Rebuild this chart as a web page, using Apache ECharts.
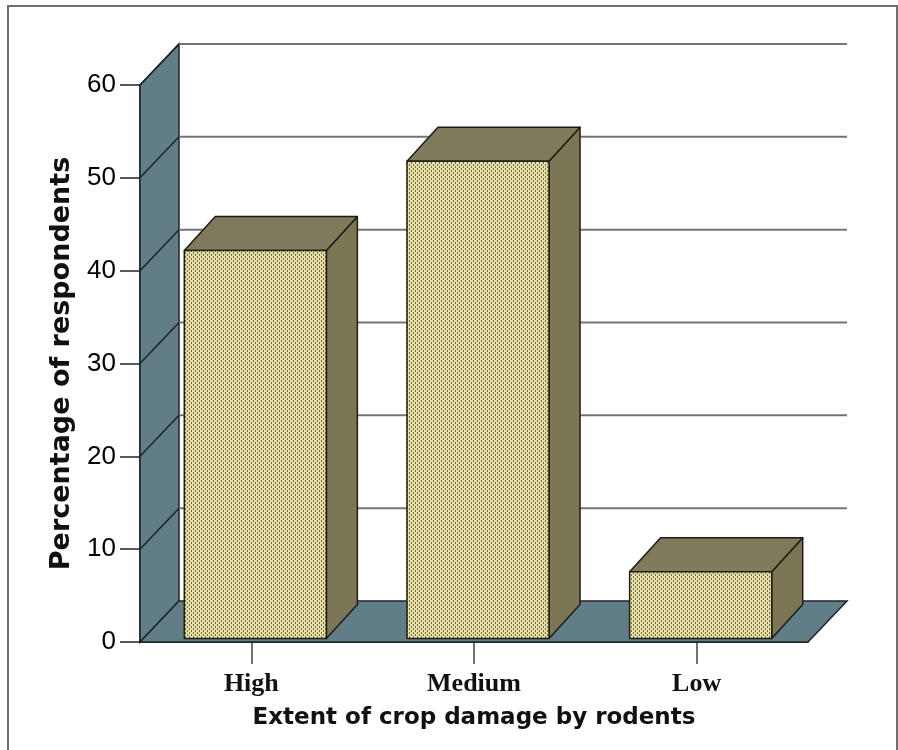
<!DOCTYPE html>
<html>
<head>
<meta charset="utf-8">
<script src="https://cdn.jsdelivr.net/npm/echarts@6/dist/echarts.min.js"></script>
<style>
  html, body { margin: 0; padding: 0; background: #ffffff; }
  #chart { width: 898px; height: 750px; }
</style>
</head>
<body>
<div id="chart"></div>
<script>
// Extent of crop damage by rodents (% of respondents)
const categories = ['High', 'Medium', 'Low'];
const percentages = [41.8, 51.4, 7.2];
const gridValues = [0, 10, 20, 30, 40, 50, 60];

// Depth of the 3D box (back wall offset) and of each bar
const WALL_DX = 39, WALL_DY = -41;
const BAR_DX = 31, BAR_DY = -34;
const BAR_RATIO = 0.638;

const WALL_COLOR = '#607d88';
const EDGE_COLOR = '#1c2326';
const BAR_TOP = '#7f7a5b';
const BAR_SIDE = '#7b7656';

// Dotted fill for the front faces of the bars
function makeDotPattern() {
  const c = document.createElement('canvas');
  c.width = 4; c.height = 4;
  const g = c.getContext('2d');
  g.fillStyle = '#e7e0a5';
  g.fillRect(0, 0, 4, 4);
  g.fillStyle = '#736d47';
  g.fillRect(1, 0, 1, 2);
  g.fillRect(3, 2, 1, 2);
  return c;
}
const dotPattern = { image: makeDotPattern(), repeat: 'repeat' };

function renderFrame(params, api) {
  const cs = params.coordSys;
  const L = cs.x, R = cs.x + cs.width, T = cs.y, B = cs.y + cs.height;
  return {
    type: 'group',
    children: [
      {
        type: 'polygon',
        shape: { points: [[L, B], [L, T], [L + WALL_DX, T + WALL_DY], [L + WALL_DX, B + WALL_DY]] },
        style: { fill: WALL_COLOR, stroke: EDGE_COLOR, lineWidth: 1.5 }
      },
      {
        type: 'polygon',
        shape: { points: [[L, B], [L + WALL_DX, B + WALL_DY], [R + WALL_DX, B + WALL_DY], [R, B]] },
        style: { fill: WALL_COLOR, stroke: EDGE_COLOR, lineWidth: 1.5 }
      }
    ]
  };
}

function renderGridLine(params, api) {
  const cs = params.coordSys;
  const L = cs.x, R = cs.x + cs.width;
  const v = api.value(1);
  const y = api.coord([0, v])[1];
  const children = [];
  if (v > 0) {
    children.push({
      type: 'line',
      shape: { x1: L + WALL_DX, y1: y + WALL_DY, x2: R + WALL_DX, y2: y + WALL_DY },
      style: { stroke: '#747474', lineWidth: 2 }
    });
    children.push({
      type: 'line',
      shape: { x1: L, y1: y, x2: L + WALL_DX, y2: y + WALL_DY },
      style: { stroke: EDGE_COLOR, lineWidth: 1.5 }
    });
  }
  return { type: 'group', children: children };
}

function renderBar(params, api) {
  const idx = api.value(0);
  const val = api.value(1);
  const top = api.coord([idx, val]);
  const base = api.coord([idx, 0]);
  const band = api.size([1, 0])[0];
  const w = band * BAR_RATIO;
  const ox = (WALL_DX - BAR_DX) / 2;
  const oy = (WALL_DY - BAR_DY) / 2;
  const x0 = top[0] - w / 2 + ox, x1 = x0 + w;
  const yT = top[1] + oy, yB = base[1] + oy;
  const edge = { stroke: '#1e1d14', lineWidth: 1.5, lineJoin: 'round' };
  return {
    type: 'group',
    children: [
      {
        type: 'polygon',
        shape: { points: [[x1, yT], [x1 + BAR_DX, yT + BAR_DY], [x1 + BAR_DX, yB + BAR_DY], [x1, yB]] },
        style: Object.assign({ fill: BAR_SIDE }, edge)
      },
      {
        type: 'polygon',
        shape: { points: [[x0, yT], [x0 + BAR_DX, yT + BAR_DY], [x1 + BAR_DX, yT + BAR_DY], [x1, yT]] },
        style: Object.assign({ fill: BAR_TOP }, edge)
      },
      {
        type: 'rect',
        shape: { x: x0, y: yT, width: w, height: yB - yT },
        style: Object.assign({ fill: dotPattern }, edge)
      }
    ]
  };
}

const chart = echarts.init(document.getElementById('chart'), null, { renderer: 'canvas' });
chart.setOption({
  backgroundColor: '#ffffff',
  animation: false,
  graphic: [{
    type: 'rect',
    shape: { x: 8, y: 6, width: 889, height: 770 },
    style: { fill: 'none', stroke: '#6e6e6e', lineWidth: 2 },
    z: 100
  }],
  grid: { left: 140, top: 85, width: 668, height: 557 },
  xAxis: {
    type: 'category',
    data: categories,
    axisLine: { show: true, lineStyle: { color: '#111', width: 1.5 } },
    axisTick: { show: true, alignWithLabel: true, length: 22, lineStyle: { color: '#444', width: 1.5 } },
    axisLabel: { fontFamily: 'Liberation Serif', fontWeight: 'bold', fontSize: 26, color: '#111', margin: 29 },
    splitLine: { show: false },
    name: 'Extent of crop damage by rodents',
    nameLocation: 'middle',
    nameGap: 65,
    nameTextStyle: { fontFamily: 'DejaVu Sans', fontWeight: 'bold', fontSize: 23, color: '#111' }
  },
  yAxis: {
    type: 'value',
    min: 0, max: 60, interval: 10,
    axisLine: { show: true, lineStyle: { color: '#111', width: 1.5 } },
    axisTick: { show: true, length: 20, lineStyle: { color: '#222', width: 1.5 } },
    axisLabel: { fontFamily: 'Liberation Sans', fontSize: 26, color: '#000', margin: 24 },
    splitLine: { show: false },
    name: 'Percentage of respondents',
    nameLocation: 'middle',
    nameGap: 65,
    nameTextStyle: { fontFamily: 'DejaVu Sans', fontWeight: 'bold', fontSize: 27, color: '#111' }
  },
  series: [
    {
      type: 'custom', z: 1, silent: true,
      renderItem: renderFrame,
      data: [[0, 0]]
    },
    {
      type: 'custom', z: 2, silent: true,
      renderItem: renderGridLine,
      data: gridValues.map(v => [0, v])
    },
    {
      type: 'custom', z: 3,
      renderItem: renderBar,
      data: percentages.map((v, i) => [i, v])
    }
  ]
});
</script>
</body>
</html>
